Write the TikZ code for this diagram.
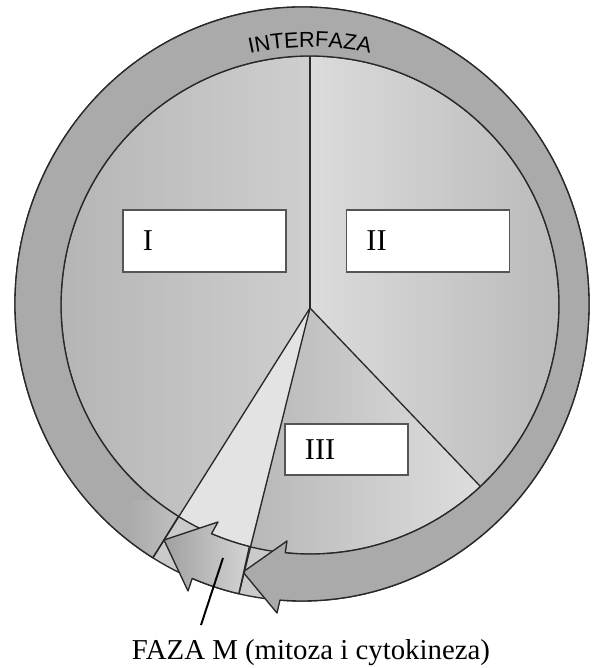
\documentclass[tikz,border=0pt]{standalone}
\usepackage{fontspec}
\setmainfont{Liberation Serif}
\newfontfamily\interfont{Liberation Sans}
\usetikzlibrary{calc,decorations.text}

\definecolor{ringgray}{RGB}{170,170,170}
\definecolor{basegray}{RGB}{202,202,202}
\definecolor{edgegray}{RGB}{40,40,40}
\definecolor{boxgray}{RGB}{85,85,85}

\begin{document}
\begin{tikzpicture}[
    x=0.025cm, y=-0.025cm,
    outline/.style={draw=edgegray, line width=0.95pt, line join=round},
    numbox/.style={draw=boxgray, line width=1pt, fill=white, minimum width=4.075cm, minimum height=1.55cm,
        text width=3.075cm, inner xsep=0.5cm, align=left, font=\fontsize{21.5}{24}\selectfont},
    smallbox/.style={numbox, minimum width=3.075cm, minimum height=1.275cm, text width=2.075cm}
]
\useasboundingbox (0,0) rectangle (597,668);
\coordinate (Co) at (302,304);
\coordinate (Ci) at (310,305);
\coordinate (apex) at (310,308);

\fill[basegray, even odd rule] (Co) circle[x radius=287, y radius=297] (Ci) circle[radius=249];

\shade[left color=black!29, right color=black!19] (apex) -- ($(Ci)+(270:249)$) arc[start angle=270, end angle=121.9, radius=249] -- cycle;
\shade[left color=black!14, right color=black!27] (apex) -- ($(Ci)+(270:249)$) arc[start angle=270, end angle=406.8, radius=249] -- cycle;
\shade[left color=black!28, right color=black!13] (apex) -- ($(Ci)+(46.8:249)$) arc[start angle=46.8, end angle=104.1, radius=249] -- cycle;
\fill[black!11] (apex) -- ($(Ci)+(104.1:249)$) arc[start angle=104.1, end angle=121.9, radius=249] -- cycle;

\draw[outline] (Co) circle[x radius=287, y radius=297];
\draw[outline] (Ci) circle[radius=249];

\fill[ringgray] ($(Co)+(121.3:287 and 297)$) arc[start angle=121.3, end angle=454.4, x radius=287, y radius=297]
    -- (277,613) -- (243,572) -- (287,541) -- ($(Ci)+(95.7:249)$) arc[start angle=455.7, end angle=121.9, radius=249] -- cycle;
\begin{scope}
\clip ($(Co)+(121.3:287 and 297)$) arc[start angle=121.3, end angle=140, x radius=287, y radius=297]
    -- ($(Ci)+(140:249)$) arc[start angle=140, end angle=121.9, radius=249] -- cycle;
\shade[left color=ringgray, middle color=black!11, right color=black!24] (128,500) rectangle (182,565);
\end{scope}
\draw[outline] ($(Co)+(121.3:287 and 297)$) arc[start angle=121.3, end angle=454.4, x radius=287, y radius=297]
    -- (277,613) -- (243,572) -- (287,541) -- ($(Ci)+(95.7:249)$) arc[start angle=455.7, end angle=121.9, radius=249] -- cycle;

\shade[outline, left color=black!37, right color=black!17] (164,540) -- (218,522) -- ($(Ci)+(113.3:249)$) arc[start angle=113.3, end angle=104.1, radius=249]
    -- ($(Co)+(102.7:287 and 297)$) arc[start angle=102.7, end angle=112.5, x radius=287, y radius=297] -- (188,591) -- cycle;

\draw[outline] ($(Ci)+(270:249)$) -- (apex);
\draw[outline] (apex) -- ($(Co)+(121.3:287 and 297)$);
\draw[outline] (apex) -- ($(Co)+(102.7:287 and 297)$);
\draw[outline] (apex) -- ($(Ci)+(46.8:249)$);

\path[decorate, decoration={text along path, text align=center,
    text={|\interfont\fontsize{15.5}{18}\selectfont|INTERFAZA}}]
    ($(310,327)+(235:280)$) arc[start angle=235, end angle=305, radius=280];

\node[numbox] (boxI) at (204.5,241) {I};
\node[numbox] (boxII) at (428,241) {II};
\node[smallbox] (boxIII) at (346.5,449.5) {III};

\node[font=\fontsize{20.5}{24}\selectfont, anchor=base] (mlabel) at (311,659) {FAZA M (mitoza i cytokineza)};
\coordinate (lead) at (201,625);
\coordinate (mpoint) at (223,558);
\draw[line width=1.4pt] (lead) -- (mpoint);
\end{tikzpicture}
\end{document}
